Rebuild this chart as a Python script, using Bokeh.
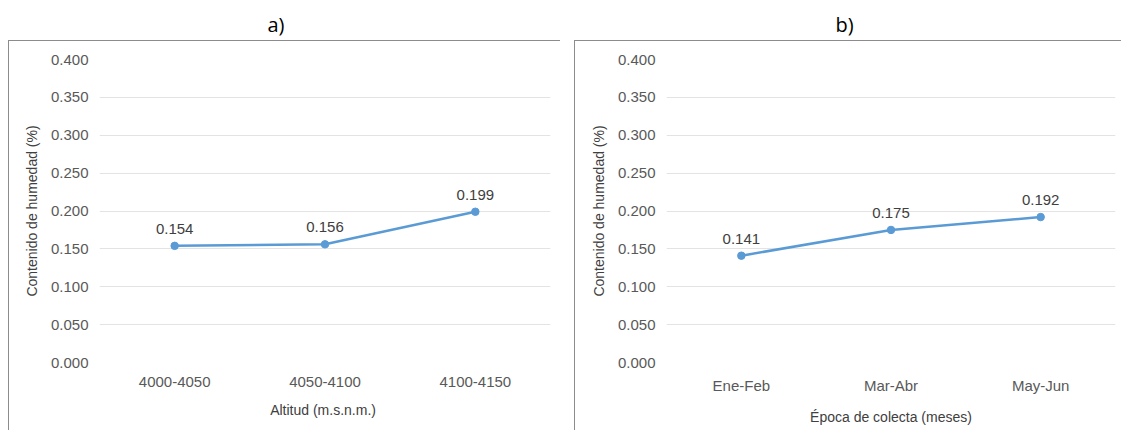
from bokeh.plotting import figure
from bokeh.layouts import row
from bokeh.models import (Range1d, FactorRange, ColumnDataSource, Title,
                          FixedTicker, CustomJSTickFormatter, InlineStyleSheet)
from bokeh.core.properties import value
from bokeh.embed import file_html
from bokeh.resources import INLINE

# Moisture content by altitude (a) and by collection period (b)
altitudes = ["4000-4050", "4050-4100", "4100-4150"]
humedad_altitud = [0.154, 0.156, 0.199]
epocas = ["Ene-Feb", "Mar-Abr", "May-Jun"]
humedad_epoca = [0.141, 0.175, 0.192]
y_ticks = [0.0, 0.05, 0.1, 0.15, 0.2, 0.25, 0.3, 0.35, 0.4]

LINE = "#5B9BD5"
TICK_COLOR = "#595959"
FONT = "Liberation Sans"
H = 430
PAD_LEFT = 99
PAD_TOP = 59
PAD_BOTTOM = 68


def frame_css(left, right):
    # thin grey box around each panel, starting below the panel tag
    return InlineStyleSheet(css=f"""
:host {{ position: relative; }}
:host::after {{
  content: ""; position: absolute; pointer-events: none;
  left: {left}px; right: {right}px; top: 40px; bottom: -2px;
  border-left: 1px solid #8c8c8c; border-top: 1px solid #8c8c8c;
}}
""")


def panel(cats, vals, xlabel, tag, width, right_pad, box_left, box_right, tag_x):
    title = Title(text=tag, align="left", vertical_align="bottom",
                  offset=tag_x - PAD_LEFT - 8, standoff=0,
                  text_font="Open Sans", text_font_size="20px", text_font_style="normal",
                  text_color="black")
    p = figure(width=width, height=H, x_range=FactorRange(*cats), y_range=Range1d(0, 0.4),
               output_backend="svg", toolbar_location=None, title=title,
               min_border_left=PAD_LEFT, min_border_right=right_pad,
               min_border_top=PAD_TOP, min_border_bottom=PAD_BOTTOM,
               stylesheets=[frame_css(box_left, box_right)])
    # blank strip between the panel tag and the plotting area
    p.add_layout(Title(text=" ", standoff=11, text_font=FONT, text_font_size="8px"), "above")
    p.outline_line_color = None
    p.background_fill_color = "white"
    p.border_fill_color = "white"

    p.xgrid.grid_line_color = None
    p.ygrid.grid_line_color = "#e3e3e3"
    p.ygrid.grid_line_width = 1

    p.yaxis.ticker = FixedTicker(ticks=y_ticks)
    p.yaxis.formatter = CustomJSTickFormatter(code="return tick.toFixed(3);")
    for ax in (p.xaxis, p.yaxis):
        ax.axis_line_color = None
        ax.major_tick_line_color = None
        ax.minor_tick_line_color = None
        ax.major_tick_out = 0
        ax.major_tick_in = 0
        ax.minor_tick_out = 0
        ax.major_label_text_font = FONT
        ax.major_label_text_font_size = "15px"
        ax.major_label_text_color = TICK_COLOR
        ax.axis_label_text_font = FONT
        ax.axis_label_text_font_size = "14px"
        ax.axis_label_text_font_style = "normal"
        ax.axis_label_text_color = "#404040"
    p.yaxis.axis_label = "Contenido de humedad (%)"
    p.yaxis.major_label_standoff = 11
    p.yaxis.axis_label_standoff = 8
    p.xaxis.axis_label = xlabel
    p.xaxis.major_label_standoff = 14
    p.xaxis.axis_label_standoff = 12

    src = ColumnDataSource(dict(x=cats, y=vals, t=[f"{v:.3f}" for v in vals]))
    p.line("x", "y", source=src, line_color=LINE, line_width=2.5)
    p.scatter("x", "y", source=src, size=7.5, fill_color=LINE, line_color=LINE)
    p.text("x", "y", text="t", source=src, text_align="center", text_baseline="bottom",
           y_offset=-12, text_font=value(FONT), text_font_size="15px", text_color="#404040")
    return p


pa = panel(altitudes, humedad_altitud, "Altitud  (m.s.n.m.)", "a)", 567, 17, 8, 7, 275)
pb = panel(epocas, humedad_epoca, "Época de colecta (meses)", "b)", 554, 6, 7, -2, 276)

layout = row(pa, pb, spacing=0)
open("out.html", "w").write(file_html(layout, INLINE))
